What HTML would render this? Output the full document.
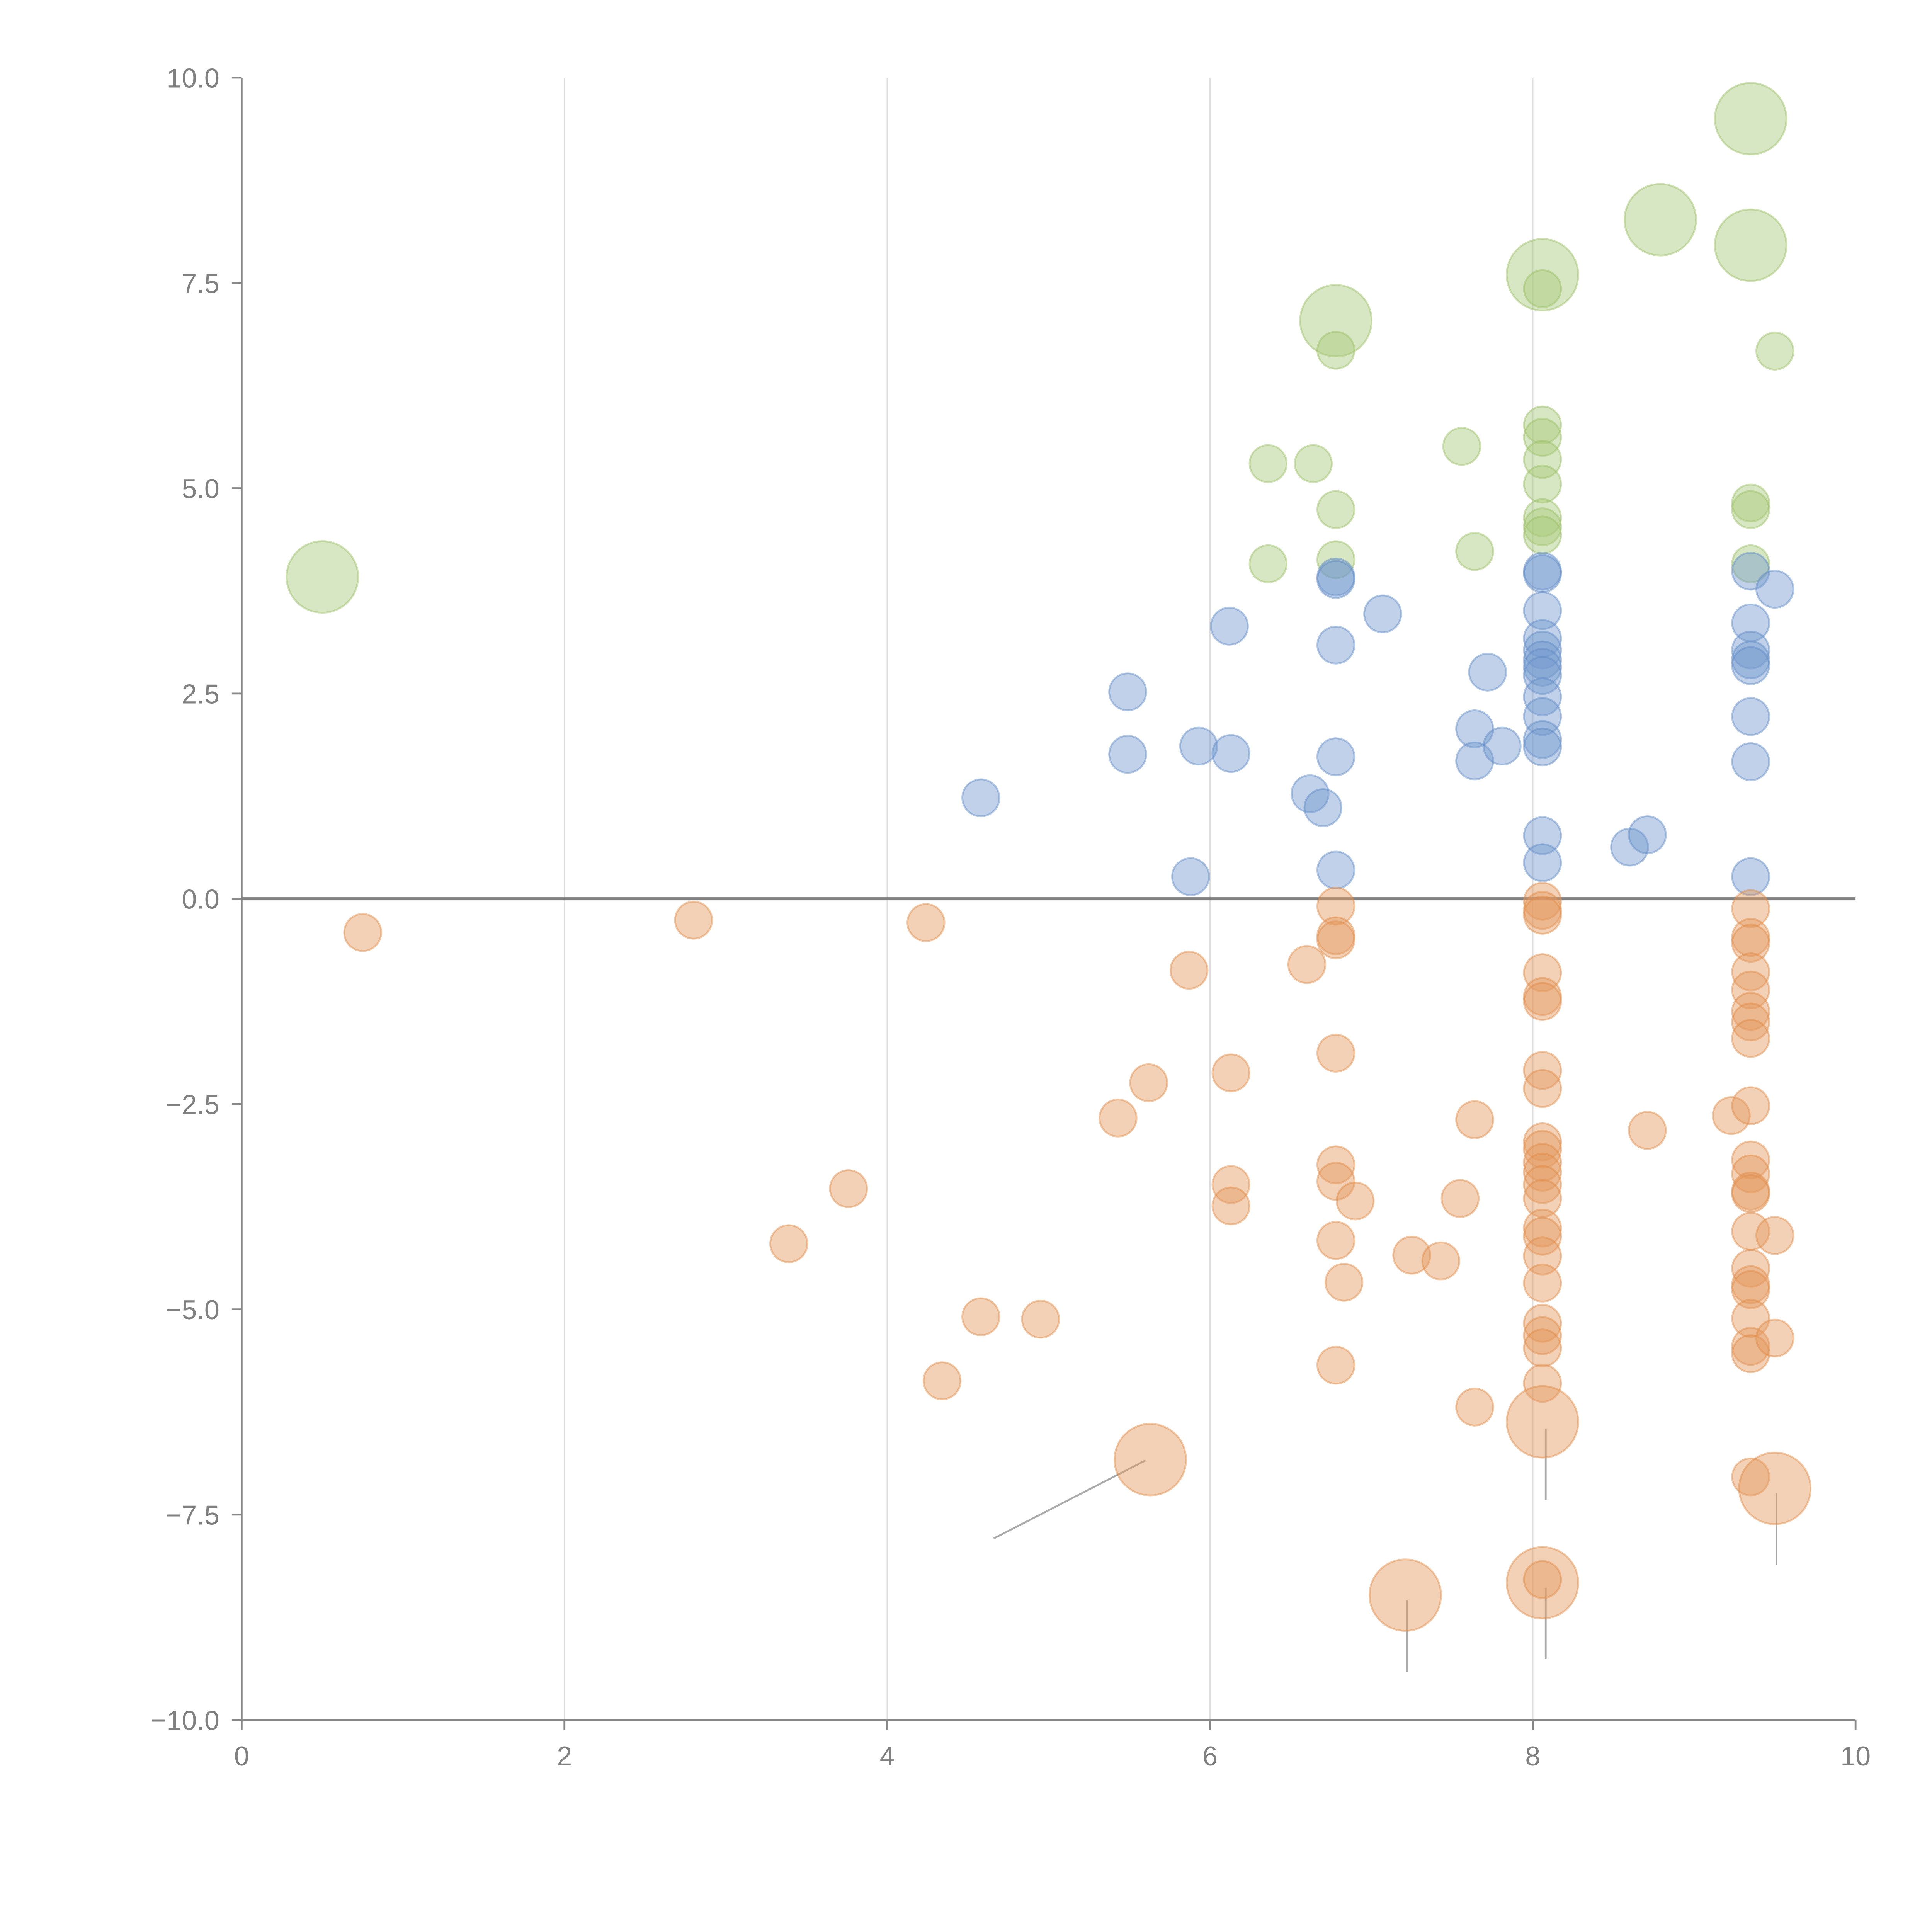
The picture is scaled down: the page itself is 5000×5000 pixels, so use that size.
<!DOCTYPE html>
<html><head><meta charset="utf-8"><style>
html,body{margin:0;padding:0;background:#fff;}
svg{display:block;}
text{font-family:"Liberation Sans",Arial,sans-serif;fill:#808080;font-size:22px;}
</style></head>
<body>
<svg id="chart" width="5000" height="5000" viewBox="0 0 1567 1567" xmlns="http://www.w3.org/2000/svg">
<g id="grid"></g>
<g id="axes"></g>
<g id="leaders"></g>
<g id="marks"></g>
</svg>
<script>
const xTicks=[0,2,4,6,8,10];
const yTicks=[-10,-7.5,-5,-2.5,0,2.5,5,7.5,10];
const greenX=[0.50,6.78,8.06,8.79,9.35,9.35,6.78,8.06,9.50,6.36,6.64,7.56,6.78,6.36,6.78,7.64,8.06,8.06,8.06,8.06,8.06,8.06,8.06,9.35,9.35,9.35];
const greenY=[3.92,7.04,7.60,8.27,9.50,7.96,6.68,7.43,6.67,5.30,5.30,5.51,4.74,4.08,4.13,4.23,5.77,5.62,5.35,5.05,4.64,4.53,4.43,4.82,4.74,4.08];
const greenSize=[2,2,2,2,2,2,1,1,1,1,1,1,1,1,1,1,1,1,1,1,1,1,1,1,1,1];
const blueX=[4.58,5.49,5.49,5.93,6.12,6.13,5.88,6.62,6.70,6.78,6.78,6.78,6.78,6.78,7.07,7.72,7.64,7.64,7.81,8.06,8.06,8.06,8.06,8.06,8.06,8.06,8.06,8.06,8.06,8.06,8.06,8.06,8.06,8.60,8.71,9.35,9.50,9.35,9.35,9.35,9.35,9.35,9.35,9.35];
const blueY=[1.23,2.52,1.76,1.86,3.32,1.77,0.27,1.28,1.11,3.92,3.89,3.09,1.73,0.35,3.47,2.76,2.07,1.68,1.86,3.99,3.96,3.51,3.17,3.03,2.91,2.82,2.72,2.46,2.22,1.94,1.85,0.77,0.44,0.63,0.78,3.99,3.77,3.36,3.03,2.91,2.84,2.22,1.67,0.27];
const orangeX=[0.75,2.80,4.24,5.87,6.60,6.78,6.78,6.78,6.78,5.62,6.13,5.43,3.76,3.39,4.58,4.95,4.34,6.13,6.13,6.78,6.78,6.90,6.78,6.83,6.78,7.25,7.43,7.55,7.64,7.64,8.71,9.23,
8.06,8.06,8.06,8.06,8.06,8.06,8.06,8.06,8.06,8.06,8.06,8.06,8.06,8.06,8.06,8.06,8.06,8.06,8.06,8.06,8.06,8.06,
9.35,9.35,9.35,9.35,9.35,9.35,9.35,9.35,9.35,9.35,9.35,9.35,9.35,9.35,9.35,9.35,9.35,9.35,9.35,9.35,9.35,9.50,9.50,
5.63,8.06,9.50,7.21,8.06,8.06];
const orangeY=[-0.41,-0.26,-0.29,-0.87,-0.80,-0.09,-0.45,-0.50,-1.88,-2.24,-2.12,-2.67,-3.53,-4.20,-5.09,-5.12,-5.87,-3.48,-3.74,-3.24,-3.44,-3.68,-4.16,-4.67,-5.68,-4.34,-4.41,-3.65,-2.69,-6.19,-2.82,-2.64,
-0.03,-0.14,-0.20,-0.90,-1.19,-1.25,-2.09,-2.31,-2.96,-3.05,-3.21,-3.33,-3.48,-3.65,-4.01,-4.11,-4.35,-4.68,-5.17,-5.32,-5.47,-5.90,
-0.12,-0.47,-0.54,-0.89,-1.11,-1.37,-1.50,-1.70,-2.52,-3.18,-3.35,-3.56,-3.59,-4.05,-4.50,-4.70,-4.76,-5.11,-5.45,-5.54,-7.04,-4.10,-5.35,
-6.83,-6.37,-7.18,-8.48,-8.33,-8.29];
const orangeSize=[1,1,1,1,1,1,1,1,1,1,1,1,1,1,1,1,1,1,1,1,1,1,1,1,1,1,1,1,1,1,1,1,
1,1,1,1,1,1,1,1,1,1,1,1,1,1,1,1,1,1,1,1,1,1,
1,1,1,1,1,1,1,1,1,1,1,1,1,1,1,1,1,1,1,1,1,1,1,
2,2,2,2,2,1];
const leaderX1=[5.60,8.08,9.51,7.22,8.08];
const leaderY1=[-6.84,-6.45,-7.24,-8.54,-8.39];
const leaderX2=[4.66,8.08,9.51,7.22,8.08];
const leaderY2=[-7.79,-7.32,-8.11,-9.42,-9.26];

const X0=196,X1=1505,Y0=1395,Y1=63;
const sx=v=>X0+(v-0)/(10-0)*(X1-X0);
const sy=v=>Y0-(v+10)/20*(Y0-Y1);
const NS="http://www.w3.org/2000/svg";
function mk(tag,attrs,parent){const e=document.createElementNS(NS,tag);for(const k in attrs)e.setAttribute(k,attrs[k]);parent.appendChild(e);return e;}
const grid=document.getElementById('grid'),axes=document.getElementById('axes'),marks=document.getElementById('marks'),leaders=document.getElementById('leaders');

xTicks.forEach(t=>{
  if(t>0&&t<10){const g=mk('line',{x1:sx(t),x2:sx(t),y1:Y1,y2:Y0,stroke:'#dcdcdc','stroke-width':1},grid);
  
  }
  const tk=mk('line',{x1:sx(t),x2:sx(t),y1:Y0,y2:Y0+8,stroke:'#888','stroke-width':1.5},axes);
  
  
  const tx=mk('text',{x:sx(t),y:Y0+37,'text-anchor':'middle'},axes);tx.textContent=String(t);
  
  
});
yTicks.forEach(t=>{
  const tk=mk('line',{x1:X0-8,x2:X0,y1:sy(t),y2:sy(t),stroke:'#888','stroke-width':1.5},axes);
  
  
  const tx=mk('text',{x:X0-18,y:sy(t)+8,'text-anchor':'end'},axes);tx.textContent=t.toFixed(1).replace('-','\u2212');
  
  
});
let a=mk('line',{x1:X0,x2:X0,y1:Y1,y2:Y0,stroke:'#888','stroke-width':1.5},axes);


a=mk('line',{x1:X0,x2:X1,y1:Y0,y2:Y0,stroke:'#888','stroke-width':1.5},axes);


a=mk('line',{x1:X0,x2:X1,y1:sy(0),y2:sy(0),stroke:'#808080','stroke-width':2.5},axes);



leaderX1.forEach((v,i)=>{
  const l=mk('line',{x1:sx(v),y1:sy(leaderY1[i]),x2:sx(leaderX2[i]),y2:sy(leaderY2[i]),stroke:'#aaa','stroke-width':1.5},leaders);
  
  
});

function series(xs,ys,ss,fill,stroke,name){
  xs.forEach((v,i)=>{
    const r=ss[i]===2?29:15;
    const c=mk('circle',{cx:sx(v),cy:sy(ys[i]),r:r,fill:fill,'fill-opacity':0.45,stroke:stroke,'stroke-opacity':0.45,'stroke-width':1.5},marks);
    
    
  });
}
series(greenX,greenY,greenSize,'#a9c97a','#98bd62','green-bubble');
series(blueX,blueY,blueX.map(()=>1),'#7399cf','#5f89c6','blue-bubble');
series(orangeX,orangeY,orangeSize,'#e59a5f','#e08a45','orange-bubble');
</script>
</body></html>
